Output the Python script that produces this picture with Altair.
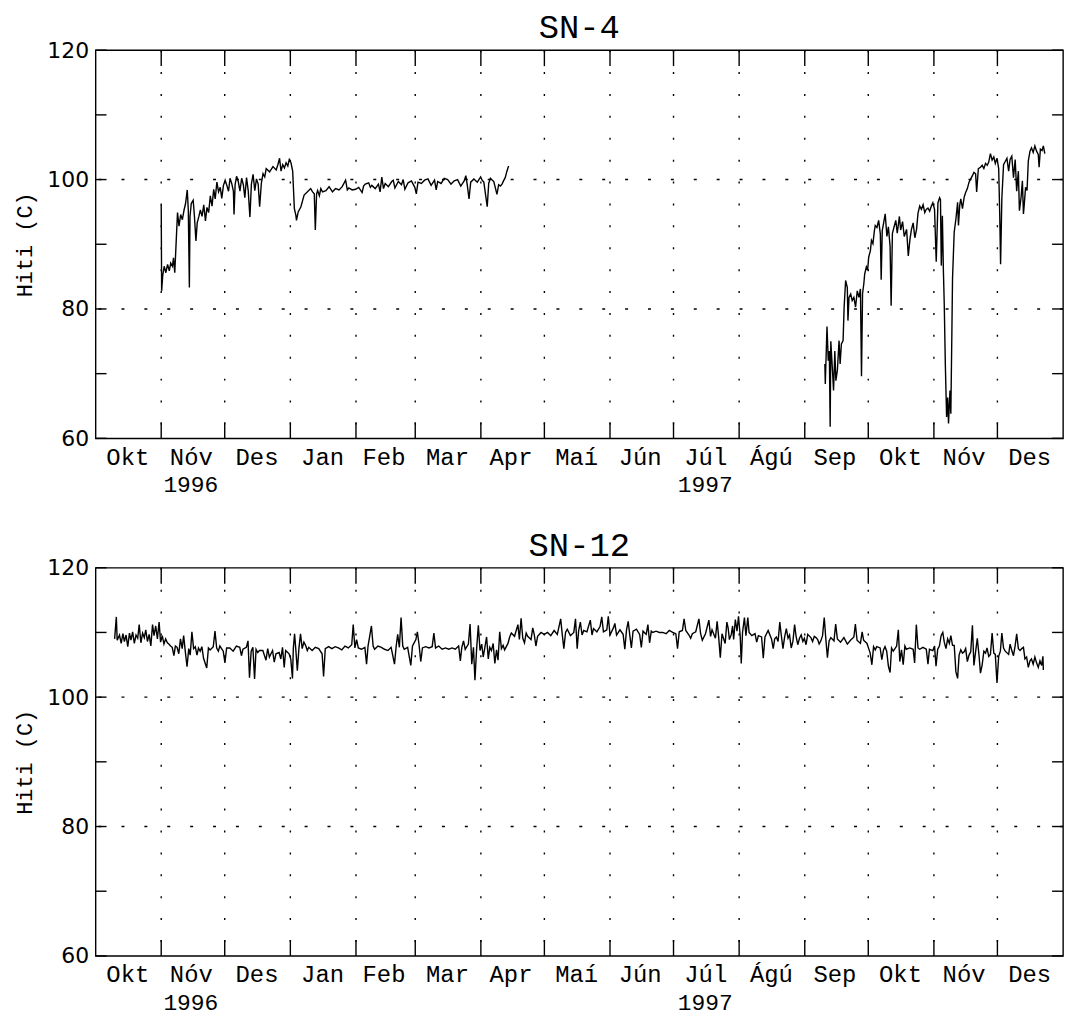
import altair as alt
import pandas as pd

# ---------------- data ----------------
START = "1996-10-01"          # day 0 of the time axis
END = "1998-01-01"
MONTH_NAMES = ["Jan", "Feb", "Mar", "Apr", "Maí", "Jún", "Júl", "Ágú", "Sep", "Okt", "Nóv", "Des"]
MONTH_STARTS = ["1996-11-01", "1996-12-01", "1997-01-01", "1997-02-01", "1997-03-01",
                "1997-04-01", "1997-05-01", "1997-06-01", "1997-07-01", "1997-08-01",
                "1997-09-01", "1997-10-01", "1997-11-01", "1997-12-01"]
MONTH_MIDS = ["1996-10-16", "1996-11-15", "1996-12-16", "1997-01-16", "1997-02-14",
              "1997-03-16", "1997-04-15", "1997-05-16", "1997-06-15", "1997-07-16",
              "1997-08-16", "1997-09-15", "1997-10-16", "1997-11-15", "1997-12-16"]
YEAR_LABELS = ["1996", "1997"]
YEAR_POS = ["1996-11-15", "1997-07-16"]
Y_TICKS = [60, 70, 80, 90, 100, 110, 120]
Y_LABELS = [60, 80, 100, 120]
Y_GRID = [80, 100]

# SN-4, (day since 1 Oct 1996, temperature C)
SN4_PART1 = [
    (31.0, 96.1), (31.2, 82.8), (31.7, 85.1), (32.4, 86.6), (33.2, 85.6), (34.0, 86.9),
    (34.8, 85.9), (35.5, 87.1), (36.3, 86.6), (36.8, 87.9), (37.4, 85.6), (38.7, 94.9),
    (39.4, 92.8), (40.2, 94.6), (41.0, 93.8), (41.8, 95.3), (42.5, 96.3), (43.3, 98.4),
    (43.8, 95.3), (44.3, 83.3), (44.6, 94.3), (45.2, 96.3), (46.1, 96.8), (46.7, 94.3),
    (47.4, 90.5), (48.0, 93.3), (48.8, 94.3), (49.5, 95.3), (50.3, 94.3), (51.1, 96.1),
    (51.9, 93.6), (52.6, 95.7), (53.4, 94.9), (54.2, 97.5), (55.0, 95.9), (55.8, 98.5),
    (56.5, 97.0), (57.3, 99.6), (58.1, 98.1), (58.9, 98.8), (59.6, 97.1), (60.4, 99.1),
    (61.2, 99.9), (62.0, 99.1), (62.8, 98.2), (63.5, 100.2), (64.3, 99.4), (65.1, 98.2),
    (65.4, 94.6), (65.9, 99.2), (66.6, 100.5), (67.4, 99.7), (68.2, 98.2), (69.0, 100.2),
    (69.8, 99.2), (70.5, 97.2), (71.3, 100.3), (72.1, 98.3), (72.9, 94.2), (73.6, 99.3),
    (74.4, 100.8), (75.2, 98.3), (76.0, 100.1), (76.8, 99.3), (77.5, 95.8), (78.3, 99.4),
    (79.1, 100.9), (79.9, 100.4), (80.6, 101.7), (82.2, 101.2), (83.8, 102.0), (85.3, 101.5),
    (86.1, 102.3), (86.9, 103.3), (87.6, 101.3), (88.4, 102.3), (89.2, 101.8), (90.0, 102.6),
    (90.8, 102.1), (91.5, 103.1), (92.3, 102.6), (93.1, 101.3), (93.9, 95.5), (94.6, 94.5),
    (94.9, 93.7), (95.7, 95.0), (97.0, 95.8), (98.5, 97.6), (100.1, 98.1), (101.6, 98.6),
    (102.5, 98.1), (103.3, 97.8), (103.8, 92.2), (104.4, 97.8), (104.9, 98.3), (105.7, 97.5),
    (106.4, 98.6), (107.2, 98.1), (108.8, 98.3), (110.3, 98.9), (111.9, 98.1), (113.4, 98.6),
    (115.0, 98.4), (116.5, 98.9), (118.1, 99.9), (118.9, 98.4), (119.6, 98.7), (121.2, 98.4),
    (122.8, 98.5), (124.3, 98.8), (125.9, 98.0), (126.6, 99.0), (127.4, 99.3), (129.0, 99.5),
    (129.8, 98.8), (130.5, 99.1), (132.1, 98.6), (133.6, 99.3), (134.4, 98.1), (135.2, 100.4),
    (136.0, 98.6), (136.8, 99.4), (138.3, 98.9), (139.9, 99.7), (140.6, 99.9), (141.4, 98.7),
    (143.0, 99.7), (144.5, 99.2), (145.3, 100.0), (146.1, 98.5), (147.6, 99.5), (149.2, 99.8),
    (150.8, 98.8), (151.5, 97.8), (152.3, 99.6), (153.9, 99.4), (155.4, 99.9), (157.0, 100.1),
    (158.5, 99.1), (160.1, 99.9), (160.9, 98.4), (161.6, 99.7), (163.2, 99.4), (164.7, 100.2),
    (166.3, 100.0), (167.9, 99.3), (169.4, 99.8), (171.0, 100.0), (172.5, 99.0), (174.1, 99.8),
    (174.9, 100.6), (175.6, 99.1), (176.4, 97.0), (177.2, 99.6), (178.7, 100.1), (180.3, 99.6),
    (181.9, 100.4), (182.6, 99.9), (183.4, 99.6), (185.0, 95.8), (185.7, 99.4), (186.5, 100.2),
    (188.1, 99.7), (189.6, 97.7), (190.4, 99.2), (191.2, 99.0), (192.0, 99.3), (192.7, 99.8),
    (193.5, 100.3), (194.3, 101.3), (195.1, 102.1),
]

SN4_PART2 = [
    (344.5, 71.5), (344.7, 68.4), (345.5, 77.3), (346.1, 72.0), (346.6, 73.5), (347.0, 61.8),
    (347.3, 75.0), (348.1, 70.4), (348.6, 67.4), (349.2, 73.5), (349.7, 68.9), (350.4, 70.5),
    (351.2, 75.1), (351.7, 71.5), (352.3, 74.6), (353.1, 75.1), (353.6, 80.3), (354.3, 84.4),
    (355.1, 83.3), (355.4, 78.2), (355.9, 81.8), (356.7, 82.3), (357.4, 81.3), (358.2, 81.8),
    (359.0, 80.3), (359.8, 82.8), (360.6, 81.8), (361.3, 83.1), (361.8, 69.6), (362.3, 82.4),
    (362.9, 83.9), (363.3, 85.4), (364.1, 86.5), (364.7, 86.0), (365.2, 88.0), (366.0, 89.0),
    (366.5, 90.6), (367.2, 90.1), (367.9, 92.1), (368.3, 92.9), (369.1, 92.6), (369.9, 93.7),
    (370.7, 91.6), (371.1, 84.5), (371.6, 92.1), (372.2, 93.2), (373.0, 94.7), (373.8, 91.2),
    (374.5, 92.7), (375.3, 89.7), (375.8, 80.5), (376.4, 91.7), (377.2, 92.7), (378.0, 93.7),
    (378.7, 91.7), (379.7, 94.3), (380.3, 92.2), (381.2, 93.5), (382.0, 91.2), (383.1, 92.3),
    (383.9, 88.2), (384.7, 90.8), (385.4, 92.3), (386.2, 93.3), (387.0, 91.0), (387.8, 92.3),
    (388.5, 94.8), (389.3, 95.9), (390.1, 95.4), (390.9, 96.1), (391.7, 94.9), (392.4, 95.4),
    (393.2, 95.6), (394.0, 95.1), (394.8, 95.9), (395.5, 96.4), (396.3, 95.4), (397.1, 87.3),
    (397.9, 96.4), (398.7, 97.2), (399.1, 96.9), (399.5, 86.7), (400.0, 94.4), (400.5, 85.7),
    (400.9, 80.6), (401.4, 71.4), (402.0, 63.3), (402.5, 66.3), (402.9, 62.3), (403.6, 67.4),
    (404.0, 63.8), (404.5, 76.6), (404.8, 84.7), (405.3, 89.3), (405.6, 91.9), (406.4, 93.9),
    (407.2, 96.5), (407.6, 92.9), (408.2, 96.0), (408.7, 97.0), (409.5, 95.5), (410.3, 97.3),
    (411.0, 98.0), (411.8, 98.6), (412.6, 99.6), (413.4, 100.1), (414.2, 100.6), (414.9, 101.1),
    (415.7, 100.9), (416.2, 98.1), (417.0, 101.7), (418.0, 101.9), (418.8, 102.2), (419.6, 101.7),
    (420.4, 102.5), (421.2, 102.2), (421.9, 102.7), (422.7, 104.0), (423.5, 103.0), (424.3, 103.5),
    (425.0, 102.5), (425.8, 103.3), (426.6, 101.7), (427.1, 94.6), (427.5, 86.9), (428.1, 97.1),
    (428.9, 102.3), (429.7, 102.8), (430.5, 103.3), (431.3, 101.3), (432.0, 103.1), (432.8, 103.6),
    (433.6, 100.3), (434.4, 103.1), (435.1, 98.2), (435.9, 101.3), (436.4, 95.2), (437.2, 97.3),
    (437.8, 99.8), (438.3, 94.7), (438.7, 96.2), (439.3, 98.8), (440.0, 98.3), (440.6, 102.9),
    (441.4, 104.4), (442.1, 104.9), (442.9, 104.2), (443.7, 105.2), (444.5, 104.4), (445.3, 103.9),
    (445.7, 101.9), (446.3, 104.7), (447.1, 104.5), (447.7, 105.2), (448.4, 104.0),
]

SN12_SERIES = [
    (9.0, 109.0), (9.8, 112.4), (10.2, 108.8), (11.3, 109.6), (12.1, 108.3), (12.9, 109.8),
    (13.6, 108.6), (14.4, 109.6), (15.2, 107.8), (16.0, 109.9), (16.7, 108.8), (17.5, 110.1),
    (18.3, 108.3), (19.1, 109.6), (19.9, 109.1), (20.6, 111.2), (21.4, 108.4), (22.2, 109.9),
    (23.0, 109.2), (23.7, 110.4), (24.5, 108.6), (25.3, 109.7), (26.1, 107.9), (26.9, 111.2),
    (27.6, 109.5), (28.4, 111.0), (29.2, 109.0), (30.0, 111.6), (30.7, 108.5), (31.5, 109.5),
    (32.3, 108.2), (33.1, 109.0), (33.9, 108.4), (34.6, 108.2), (35.4, 107.9), (36.2, 107.7),
    (37.0, 106.4), (37.7, 107.9), (38.5, 107.7), (39.3, 106.7), (40.1, 109.0), (40.9, 107.5),
    (41.6, 109.5), (42.4, 107.0), (43.2, 104.7), (44.0, 107.5), (44.7, 106.5), (45.5, 110.1),
    (46.3, 107.5), (47.1, 107.8), (47.9, 106.5), (48.6, 107.6), (49.4, 107.1), (50.2, 107.8),
    (51.0, 106.0), (52.5, 104.5), (53.3, 107.6), (54.1, 107.3), (55.6, 107.8), (56.4, 110.2),
    (57.2, 107.6), (58.0, 107.1), (58.7, 107.9), (60.3, 107.1), (61.1, 105.3), (61.9, 107.6),
    (63.4, 107.6), (65.0, 107.1), (66.5, 107.9), (68.1, 107.7), (68.9, 106.4), (69.6, 107.4),
    (71.2, 107.7), (72.0, 108.7), (72.7, 103.0), (73.5, 107.1), (74.3, 107.7), (75.1, 102.8),
    (75.8, 107.4), (76.6, 106.9), (77.4, 107.2), (79.0, 107.2), (80.5, 105.7), (81.3, 107.5),
    (82.1, 106.2), (83.6, 107.2), (84.4, 105.4), (85.2, 106.7), (86.7, 106.9), (87.5, 105.9),
    (88.3, 107.7), (89.1, 104.6), (89.8, 107.2), (91.4, 106.7), (92.2, 105.9), (93.0, 102.9),
    (93.4, 107.5), (94.0, 109.8), (94.5, 107.7), (95.3, 104.1), (96.1, 107.7), (96.8, 109.8),
    (97.6, 107.5), (98.4, 108.5), (99.2, 108.0), (100.0, 107.2), (100.7, 107.7), (102.3, 107.2),
    (103.8, 107.7), (105.4, 107.5), (107.0, 106.7), (107.7, 103.2), (108.5, 107.5), (110.1, 107.8),
    (111.6, 107.5), (113.2, 107.8), (114.7, 107.6), (116.3, 107.3), (117.8, 107.9), (119.4, 107.6),
    (121.0, 108.1), (121.7, 111.2), (122.5, 107.6), (123.3, 108.9), (124.1, 107.6), (125.6, 107.4),
    (127.2, 107.7), (128.0, 105.1), (128.7, 107.9), (130.3, 111.0), (131.1, 107.9), (131.8, 107.4),
    (133.4, 107.9), (135.0, 107.7), (136.5, 107.4), (138.1, 107.2), (139.6, 107.7), (141.2, 105.1),
    (142.0, 107.9), (142.7, 109.7), (143.5, 107.7), (144.3, 112.3), (145.1, 107.9), (145.8, 107.4),
    (147.4, 107.7), (148.9, 104.9), (149.7, 107.9), (151.3, 108.9), (152.0, 110.1), (152.8, 108.1),
    (153.6, 105.5), (154.4, 107.6), (155.9, 107.8), (157.5, 107.6), (159.0, 107.8), (159.8, 109.9),
    (160.6, 107.6), (162.1, 107.9), (163.7, 107.4), (165.3, 107.6), (166.8, 107.4), (168.4, 107.6),
    (169.9, 107.4), (171.5, 107.9), (172.3, 105.6), (173.0, 107.7), (173.8, 108.7), (174.6, 107.4),
    (176.1, 108.2), (176.9, 111.3), (177.7, 105.1), (178.5, 107.7), (179.2, 102.6), (180.0, 107.5),
    (180.8, 111.1), (181.6, 107.2), (182.4, 108.2), (183.1, 106.2), (183.9, 107.7), (184.7, 109.3),
    (185.5, 105.9), (186.2, 107.7), (187.0, 107.2), (187.8, 108.3), (188.6, 105.2), (189.4, 107.3),
    (190.1, 105.7), (190.9, 110.1), (191.7, 107.5), (192.5, 108.0), (193.2, 107.3), (194.8, 108.3),
    (195.6, 109.3), (196.4, 109.9), (197.9, 109.4), (199.5, 111.2), (200.2, 108.9), (201.0, 112.2),
    (201.8, 109.1), (202.6, 108.4), (203.4, 109.9), (204.1, 109.4), (205.7, 108.9), (206.5, 110.7),
    (207.2, 109.7), (208.0, 107.9), (208.8, 109.4), (210.4, 110.0), (211.9, 109.7), (213.5, 110.0),
    (215.0, 109.5), (216.6, 110.3), (218.1, 109.7), (219.7, 112.1), (220.5, 109.5), (221.2, 107.5),
    (222.0, 110.0), (222.8, 110.5), (224.3, 109.5), (225.9, 110.0), (226.7, 112.1), (227.5, 107.5),
    (228.2, 110.3), (229.0, 111.6), (229.8, 109.6), (230.6, 110.3), (232.1, 110.1), (233.7, 111.9),
    (234.5, 109.6), (235.2, 110.6), (236.8, 110.1), (238.3, 110.9), (239.1, 112.4), (239.9, 110.1),
    (241.5, 110.4), (242.2, 112.5), (243.0, 109.6), (244.6, 110.7), (245.3, 111.4), (246.1, 109.6),
    (247.7, 110.4), (249.2, 109.7), (250.0, 107.4), (250.8, 110.4), (251.6, 111.7), (252.3, 109.7),
    (253.1, 107.6), (253.9, 110.2), (255.5, 110.5), (257.0, 109.7), (257.8, 107.7), (258.6, 110.2),
    (260.1, 109.7), (260.9, 111.2), (261.7, 108.4), (262.5, 110.2), (263.2, 110.0), (264.8, 110.2),
    (266.3, 110.0), (267.9, 110.0), (269.5, 109.8), (271.0, 110.3), (272.6, 110.0), (274.1, 109.8),
    (274.9, 107.5), (275.7, 110.1), (277.2, 110.3), (278.0, 112.1), (278.8, 110.3), (280.3, 109.6),
    (281.1, 109.1), (281.9, 109.8), (283.5, 110.1), (285.0, 112.1), (285.8, 109.8), (286.6, 108.8),
    (288.1, 109.8), (289.7, 111.9), (290.5, 109.4), (291.2, 110.4), (292.8, 109.1), (293.6, 111.7),
    (294.3, 109.4), (295.1, 106.1), (295.9, 109.8), (297.4, 108.3), (298.2, 111.6), (298.8, 110.7),
    (299.4, 108.9), (300.3, 109.7), (300.9, 111.0), (301.4, 108.9), (302.2, 112.0), (303.0, 110.2),
    (303.7, 112.5), (304.5, 109.5), (305.0, 105.2), (305.6, 110.0), (306.5, 112.3), (307.2, 109.5),
    (308.1, 112.3), (308.7, 110.0), (310.0, 109.5), (311.5, 109.8), (312.3, 108.5), (313.1, 109.5),
    (314.6, 109.3), (315.4, 106.0), (316.2, 109.3), (317.7, 110.3), (319.3, 109.0), (320.1, 107.5),
    (320.8, 109.0), (321.6, 109.3), (322.4, 108.6), (323.2, 111.6), (323.9, 109.6), (324.7, 107.5),
    (325.5, 109.3), (326.3, 110.6), (327.1, 109.1), (327.8, 109.6), (328.6, 107.6), (329.4, 108.6),
    (330.2, 111.2), (330.9, 109.4), (331.7, 108.1), (332.5, 109.1), (333.3, 109.6), (334.1, 108.6),
    (334.8, 109.1), (335.6, 108.1), (336.4, 109.7), (337.9, 109.2), (338.7, 108.6), (339.5, 109.4),
    (340.3, 109.2), (341.1, 108.9), (341.8, 108.2), (342.6, 108.7), (343.4, 109.5), (344.2, 112.3),
    (344.9, 109.2), (345.7, 106.1), (346.5, 108.7), (347.3, 109.2), (348.8, 108.7), (349.6, 111.3),
    (350.4, 109.0), (351.9, 108.5), (353.5, 109.2), (355.1, 108.2), (356.6, 108.8), (358.2, 109.3),
    (358.9, 111.3), (359.7, 108.8), (361.3, 108.3), (362.1, 110.1), (362.8, 108.8), (364.4, 108.3),
    (365.2, 107.5), (365.9, 106.8), (366.7, 105.0), (367.5, 107.8), (368.3, 107.3), (369.0, 107.8),
    (370.6, 107.6), (371.4, 105.8), (372.2, 107.3), (372.9, 107.8), (373.7, 107.1), (374.5, 104.8),
    (375.3, 103.8), (376.0, 107.6), (376.8, 107.1), (378.4, 107.9), (379.2, 110.4), (379.9, 105.5),
    (380.7, 107.3), (381.5, 105.0), (382.3, 107.9), (383.0, 107.4), (384.6, 107.6), (386.2, 107.4),
    (386.9, 105.3), (387.7, 111.2), (388.5, 107.6), (389.3, 107.4), (390.8, 107.7), (392.4, 107.4),
    (393.2, 105.1), (393.9, 107.4), (395.5, 107.2), (396.3, 107.9), (397.0, 104.8), (397.8, 107.4),
    (398.6, 107.9), (399.4, 109.5), (400.2, 110.0), (400.9, 108.5), (401.7, 107.5), (402.5, 109.0),
    (403.3, 108.3), (404.0, 109.5), (404.8, 108.0), (405.6, 108.0), (406.4, 103.9), (407.2, 102.9),
    (407.9, 106.5), (408.7, 107.3), (409.5, 106.8), (410.3, 107.0), (411.0, 107.5), (411.8, 105.5),
    (412.6, 106.5), (413.4, 107.0), (414.2, 111.1), (414.9, 104.9), (415.7, 107.0), (416.5, 109.1),
    (417.3, 106.5), (418.0, 103.7), (418.8, 105.0), (419.6, 107.1), (420.4, 106.8), (421.1, 107.6),
    (421.9, 106.3), (422.7, 106.6), (423.5, 109.9), (424.3, 106.8), (425.0, 106.6), (425.8, 102.2),
    (426.6, 106.3), (427.4, 107.1), (428.1, 109.9), (428.9, 107.6), (429.7, 107.1), (431.3, 106.6),
    (432.0, 108.2), (432.8, 107.2), (433.6, 106.4), (434.4, 108.0), (435.1, 109.8), (435.9, 107.5),
    (436.7, 107.2), (437.5, 107.5), (438.3, 107.7), (439.0, 105.9), (439.8, 106.2), (440.6, 104.6),
    (441.4, 105.6), (442.1, 105.9), (442.9, 105.1), (443.7, 106.2), (444.5, 105.3), (445.3, 104.6),
    (446.1, 105.6), (446.9, 104.9), (447.5, 106.3), (447.7, 104.2),
]

# ---------------- build tables ----------------
def to_frame(parts):
    rows = []
    for seg, pts in enumerate(parts):
        for d, v in pts:
            rows.append({"seg": seg, "day": d, "v": v})
    df = pd.DataFrame(rows)
    df["date"] = pd.Timestamp(START) + pd.to_timedelta(df["day"], unit="D")
    return df[["seg", "date", "v"]]


def dt(s):
    t = pd.Timestamp(s)
    return alt.DateTime(year=t.year, month=t.month, date=t.day)


sn4 = to_frame([SN4_PART1, SN4_PART2])
sn12 = to_frame([SN12_SERIES])
month_df = pd.DataFrame({"date": pd.to_datetime(MONTH_STARTS)})
year_df = pd.DataFrame({"date": pd.to_datetime(YEAR_POS), "label": YEAR_LABELS})
ytick_df = pd.DataFrame({"v": Y_TICKS})
ygrid_df = pd.DataFrame({"v": Y_GRID})

W, H = 972, 390
MONO = "Liberation Mono"
x_scale = alt.Scale(domain=[dt(START), dt(END)], nice=False)
y_scale = alt.Scale(domain=[60, 120], nice=False, zero=False)
label_expr = "[" + ",".join("'%s'" % m for m in MONTH_NAMES) + "][month(datum.value)]"

X_AXIS = alt.Axis(
    values=[dt(m) for m in MONTH_MIDS], labelExpr=label_expr, ticks=False,
    domain=False, grid=False, labelFont=MONO, labelFontSize=24, labelColor="black",
    labelPadding=7, labelFlush=False, labelOverlap=False, labelBound=False, title=None)
Y_AXIS = alt.Axis(
    values=Y_LABELS, ticks=False, domain=False, grid=False, labelFont="DejaVu Sans",
    labelFontSize=22, labelColor="black", labelPadding=7, title="Hiti (C)",
    titleFont=MONO, titleFontSize=22, titleFontWeight="normal", titleColor="black",
    titlePadding=10)


def panel(df, title):
    xs = alt.X("date:T", scale=x_scale, axis=X_AXIS)
    ys = alt.Y("v:Q", scale=y_scale, axis=Y_AXIS)
    line = alt.Chart(df).mark_line(color="black", strokeWidth=1.4).encode(
        x=xs, y=ys, detail="seg:N")
    vgrid = alt.Chart(month_df).mark_rule(color="black", strokeWidth=1.4,
                                          strokeDash=[2, 20]).encode(x=xs)
    xt_bot = alt.Chart(month_df).mark_rule(color="black", strokeWidth=1.4).encode(
        x=xs, y=alt.value(H), y2=alt.value(H - 16))
    xt_top = alt.Chart(month_df).mark_rule(color="black", strokeWidth=1.4).encode(
        x=xs, y=alt.value(0), y2=alt.value(16))
    hgrid = alt.Chart(ygrid_df).mark_rule(color="black", strokeWidth=1.4,
                                          strokeDash=[3, 20]).encode(y=ys)
    yt_l = alt.Chart(ytick_df).mark_rule(color="black", strokeWidth=1.4).encode(
        y=ys, x=alt.value(0), x2=alt.value(11))
    yt_r = alt.Chart(ytick_df).mark_rule(color="black", strokeWidth=1.4).encode(
        y=ys, x=alt.value(W - 11), x2=alt.value(W))
    years = alt.Chart(year_df).mark_text(font=MONO, fontSize=23, color="black",
                                         baseline="middle", align="center").encode(
        x=xs, y=alt.value(H + 47), text="label:N")
    return alt.layer(line, vgrid, hgrid, xt_bot, xt_top, yt_l, yt_r, years).properties(
        width=W, height=H,
        title=alt.TitleParams(text=title, font=MONO, fontSize=34, fontWeight="normal",
                              color="black", anchor="middle", offset=-6))


chart = alt.vconcat(panel(sn4, "SN-4"), panel(sn12, "SN-12"), spacing=30).properties(
    padding={"top": 0, "left": 5, "right": 5, "bottom": 0}
).configure(background="white").configure_view(stroke="black", strokeWidth=1.4)

chart.save("out.html", embed_options={"renderer": "svg", "actions": False})
